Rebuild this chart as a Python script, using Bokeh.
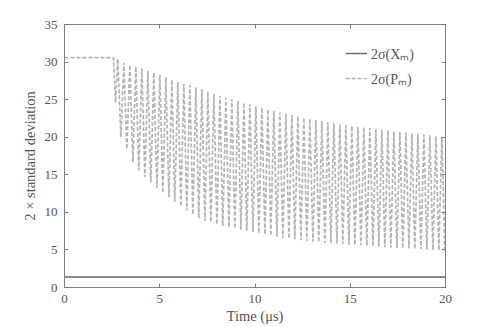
from bokeh.plotting import figure
from bokeh.models import LinearAxis, Range1d
from bokeh.embed import file_html
from bokeh.resources import INLINE

# ---- data ----
time_xm = [0.0, 20.0]
sigma_xm = [1.4, 1.4]

plateau_t = [0.0, 2.57]
plateau_v = [30.6, 30.6]

peak_t = [2.80, 3.115, 3.43, 3.745, 4.06, 4.375, 4.69, 5.005, 5.32, 5.635,
          5.95, 6.265, 6.58, 6.895, 7.21, 7.525, 7.84, 8.155, 8.47, 8.785,
          9.10, 9.415, 9.73, 10.045, 10.36, 10.675, 10.99, 11.305, 11.62, 11.935,
          12.25, 12.565, 12.88, 13.195, 13.51, 13.825, 14.14, 14.455, 14.77, 15.085,
          15.40, 15.715, 16.03, 16.345, 16.66, 16.975, 17.29, 17.605, 17.92, 18.235,
          18.55, 18.865, 19.18, 19.495, 19.81]
peak_v = [30.4, 29.9, 29.6, 29.4, 29.15, 28.85, 28.6, 28.3, 28.0, 27.65,
          27.35, 27.1, 26.9, 26.65, 26.4, 26.1, 25.75, 25.5, 25.25, 25.05,
          24.85, 24.6, 24.4, 24.15, 23.95, 23.7, 23.5, 23.3, 23.15, 22.95,
          22.8, 22.6, 22.45, 22.3, 22.15, 22.0, 21.85, 21.7, 21.6, 21.5,
          21.4, 21.3, 21.2, 21.1, 21.0, 20.9, 20.8, 20.7, 20.6, 20.5,
          20.45, 20.35, 20.25, 20.15, 20.05]

trough_t = [2.68, 2.96, 3.27, 3.59, 3.90, 4.22, 4.53, 4.85, 5.16, 5.48,
            5.79, 6.11, 6.42, 6.74, 7.05, 7.37, 7.68, 8.00, 8.31, 8.63,
            8.94, 9.26, 9.57, 9.89, 10.20, 10.52, 10.83, 11.15, 11.46, 11.78,
            12.09, 12.41, 12.72, 13.04, 13.35, 13.67, 13.98, 14.30, 14.61, 14.93,
            15.24, 15.56, 15.87, 16.19, 16.50, 16.82, 17.13, 17.45, 17.76, 18.08,
            18.39, 18.71, 19.02, 19.34, 19.65, 19.97]
trough_v = [24.6, 20.0, 18.4, 16.7, 15.6, 14.7, 14.0, 13.2, 12.6, 12.0,
            11.4, 10.8, 10.2, 9.7, 9.2, 8.9, 8.7, 8.4, 8.2, 8.0,
            7.85, 7.7, 7.55, 7.4, 7.2, 7.05, 6.9, 6.75, 6.6, 6.5,
            6.4, 6.3, 6.2, 6.1, 6.05, 5.95, 5.9, 5.85, 5.8, 5.7,
            5.65, 5.6, 5.55, 5.5, 5.45, 5.35, 5.3, 5.25, 5.2, 5.2,
            5.15, 5.1, 5.05, 5.0, 4.95, 4.9]

x_ticks = [0, 5, 10, 15, 20]
y_ticks = [0, 5, 10, 15, 20, 25, 30, 35]

# merge turning points in time order
t_pm = list(plateau_t)
v_pm = list(plateau_v)
for i in range(len(trough_t)):
    t_pm.append(trough_t[i]); v_pm.append(trough_v[i])
    if i < len(peak_t):
        t_pm.append(peak_t[i]); v_pm.append(peak_v[i])

FONT = "Liberation Serif"
AXC = "#7f7f7f"
TXT = "#555555"

p = figure(width=491, height=327, output_backend="svg", toolbar_location=None,
           x_range=Range1d(0, 20), y_range=Range1d(0, 35),
           min_border_left=64, min_border_right=46, min_border_top=24,
           min_border_bottom=40)
p.background_fill_color = "white"
p.border_fill_color = "white"
p.outline_line_color = AXC
p.xgrid.visible = False
p.ygrid.visible = False

p.line(t_pm, v_pm, line_color="#b3b3b3", line_width=1.7, line_dash="4 2",
       legend_label="2σ(Pₘ)")
p.line(time_xm, sigma_xm, line_color="#666666", line_width=1.4,
       legend_label="2σ(Xₘ)")

def style(ax, ticks):
    ax.ticker = ticks
    ax.major_tick_in = 4
    ax.major_tick_out = 0
    ax.minor_tick_in = 0
    ax.minor_tick_out = 0
    ax.axis_line_color = AXC
    ax.major_tick_line_color = AXC
    ax.major_label_text_font = FONT
    ax.major_label_text_font_size = "13px"
    ax.major_label_text_color = TXT
    ax.axis_label_text_font = FONT
    ax.axis_label_text_font_size = "14.5px"
    ax.axis_label_text_font_style = "normal"
    ax.axis_label_text_color = TXT

style(p.xaxis[0], x_ticks)
style(p.yaxis[0], y_ticks)
p.xaxis.axis_label = "Time (μs)"
p.yaxis.axis_label = "2 × standard deviation"
p.xaxis.major_label_standoff = 7
p.xaxis.axis_label_standoff = 2
p.yaxis.major_label_standoff = 7
p.yaxis.axis_label_standoff = 4

top = LinearAxis()
style(top, x_ticks)
top.major_label_overrides = {v: "" for v in x_ticks}
top.major_label_standoff = 0
right = LinearAxis()
style(right, y_ticks)
right.major_label_overrides = {v: "" for v in y_ticks}
right.major_label_standoff = 0
p.add_layout(top, "above")
p.add_layout(right, "right")

# legend order: X first, then P
lg = p.legend[0]
lg.items = [lg.items[1], lg.items[0]]
lg.location = (281, 199)
lg.border_line_color = None
lg.background_fill_alpha = 0
lg.margin = 0
lg.padding = 0
lg.spacing = 5
lg.glyph_width = 22
lg.glyph_height = 20
lg.label_height = 20
lg.label_standoff = 4
lg.label_text_font = FONT
lg.label_text_font_size = "14px"
lg.label_text_color = TXT

open("out.html", "w").write(file_html(p, INLINE))
